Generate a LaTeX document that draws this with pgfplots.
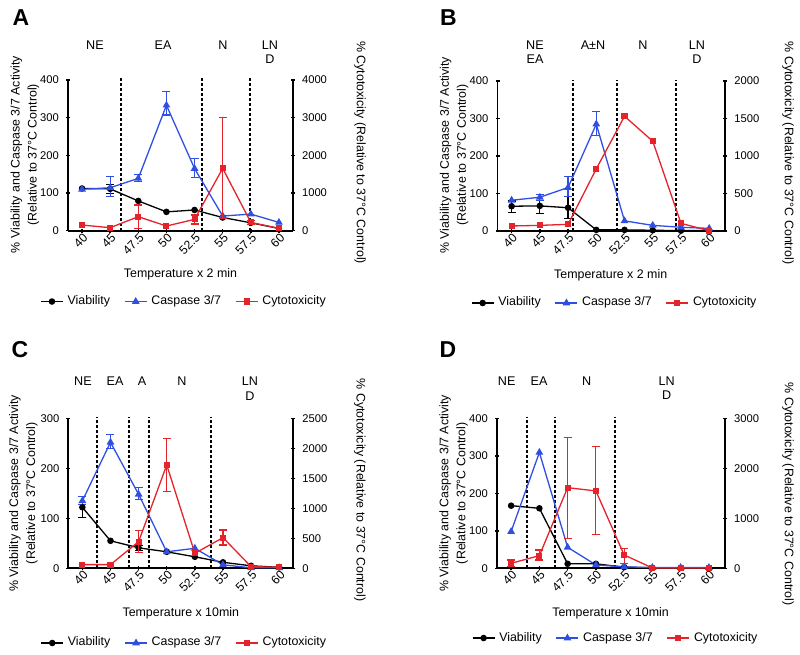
\documentclass[border=0pt]{standalone}
\usepackage{fontspec}
\setmainfont{Liberation Sans}
\usepackage{pgfplots}
\pgfplotsset{compat=1.18}
\definecolor{casp}{HTML}{2F4FE3}
\definecolor{cyto}{HTML}{E5232B}

% pixel (800x655, y down) -> pt
\newcommand{\px}[2]{({#1*0.5pt},{(655-#2)*0.5pt})}
\newcommand{\lblfont}{\fontsize{6.2}{8.5}\selectfont}

\tikzset{stage/.style={line width=1pt, dash pattern=on 1.5pt off 1pt}}

\pgfplotsset{
  panel/.style={
    scale only axis, clip=false, ymin=0,
    tick align=outside, major tick length=2pt,
    every tick/.style={black, line width=0.7pt},
    yticklabel style={font=\fontsize{5.6}{6}\selectfont},
    /pgf/number format/assume math mode=true,
    /pgf/number format/1000 sep={},
    scaled y ticks=false,
  },
  leftax/.style={panel, axis y line=left, axis x line=bottom,
    axis line style={-, line width=0.95pt},
    xtick={0,...,7}, xticklabels={40,45,47.5,50,52.5,55,57.5,60},
    xticklabel style={font=\fontsize{6.1}{6.5}\selectfont, rotate=45, anchor=east,
      inner sep=1pt, xshift=1.4pt, yshift=-2.2pt},
    ylabel={\% Viability and Caspase 3/7 Activity\\(Relative to 37°C Control)},
    ylabel style={align=center, anchor=center, font=\lblfont},
    xlabel style={anchor=center, font=\lblfont},
  },
  rightax/.style={panel, axis y line=right, axis x line=none,
    axis line style={-, line width=0.95pt},
    ylabel={\% Cytotoxicity (Relative to 37°C Control)},
    ylabel style={rotate=180, anchor=center, font=\lblfont},
    legend columns=-1,
    legend style={draw=none, fill=none, font=\fontsize{6.2}{7}\selectfont, anchor=center,
      /tikz/every even column/.append style={column sep=5pt}},
    legend image code/.code={\draw[mark repeat=2, mark phase=2] plot coordinates {(0pt,0pt) (5.5pt,0pt) (11pt,0pt)};},
    legend entries={Viability, Caspase 3/7, Cytotoxicity},
  },
  vl/.style={black, line width=0.65pt, mark=*, mark size=1.3pt},
  cl/.style={casp, line width=0.65pt, mark=triangle*, mark size=1.6pt},
  rl/.style={cyto, line width=0.65pt, mark=square*, mark size=1.2pt},
  eb/.style={error bars/.cd, y dir=both, y explicit,
    error bar style={line width=0.6pt},
    error mark options={rotate=90, mark size=2pt, line width=0.6pt}},
}

\begin{document}
\begin{tikzpicture}
\path[use as bounding box] (0,0) rectangle (400pt,327.5pt);

% ---------------- A ----------------
\begin{axis}[leftax, at={(34pt,212.15pt)}, anchor=south west,
  width=112.5pt, height=75.35pt, xmin=-0.5, xmax=7.5,
  ymax=400, ytick={0,100,...,400},
  xlabel={Temperature x 2 min},
  xlabel style={at={(axis description cs:0.5,-0.292)}},
  ylabel style={at={(axis description cs:-0.191,0.505)}}]
\draw[stage] (axis cs:1.39,0) -- (axis cs:1.39,404);
\draw[stage] (axis cs:4.27,0) -- (axis cs:4.27,404);
\draw[stage] (axis cs:5.98,0) -- (axis cs:5.98,404);
\addplot[vl, eb] coordinates {
  (0,112) (1,111) +- (0,12) (2,79) (3,50) (4,55) (5,35) (6,21) (7,6)};
\addplot[cl, eb] coordinates {
  (0,110) (1,114) += (0,29) -= (0,24) (2,139) += (0,11) -= (0,9)
  (3,333) += (0,36) -= (0,26) (4,165) += (0,27) -= (0,23)
  (5,39) (6,44) (7,22)};
\end{axis}
\begin{axis}[rightax, at={(34pt,212.15pt)}, anchor=south west,
  width=112.5pt, height=75.35pt, xmin=-0.5, xmax=7.5,
  ymax=4000, ytick={0,1000,...,4000},
  ylabel style={at={(axis description cs:1.298,0.518)}},
  legend style={at={(0.52,-0.47)}}]
\addlegendimage{vl}
\addlegendimage{cl}
\addplot[rl, eb] coordinates {
  (0,150) (1,80) (2,372) += (0,309) -= (0,310) (3,124)
  (4,301) += (0,115) -= (0,124) (5,1655) += (0,1350) -= (0,1330)
  (6,221) +- (0,60) (7,62)};
\end{axis}

% ---------------- B ----------------
\begin{axis}[leftax, at={(248.75pt,212pt)}, anchor=south west,
  width=113.9pt, height=75pt, xmin=-0.5, xmax=7.57,
  ymax=400, ytick={0,100,...,400},
  xlabel={Temperature x 2 min},
  xlabel style={at={(axis description cs:0.497,-0.293)}},
  ylabel style={at={(axis description cs:-0.19,0.505)}}]
\draw[stage] (axis cs:2.17,0) -- (axis cs:2.17,404);
\draw[stage] (axis cs:3.72,0) -- (axis cs:3.72,404);
\draw[stage] (axis cs:5.81,0) -- (axis cs:5.81,404);
\addplot[vl, eb] coordinates {
  (0,66) += (0,14) -= (0,16) (1,67) += (0,14) -= (0,20) (2,62) += (0,29) -= (0,28)
  (3,3) (4,3) (5,2) (6,1) (7,1)};
\addplot[cl, eb] coordinates {
  (0,82) (1,90) +- (0,8) (2,116) += (0,30) -= (0,25) (3,285) += (0,34) -= (0,30)
  (4,27) (5,15) (6,10) (7,7)};
\end{axis}
\begin{axis}[rightax, at={(248.75pt,212pt)}, anchor=south west,
  width=113.9pt, height=75pt, xmin=-0.5, xmax=7.57,
  ymax=2000, ytick={0,500,...,2000},
  ylabel style={at={(axis description cs:1.276,0.52)}},
  legend style={at={(0.519,-0.48)}}]
\addlegendimage{vl}
\addlegendimage{cl}
\addplot[rl] coordinates {
  (0,67) (1,75) (2,89) (3,829) (4,1530) (5,1197) (6,102) (7,4)};
\end{axis}

% ---------------- C ----------------
\begin{axis}[leftax, at={(34.15pt,43.35pt)}, anchor=south west,
  width=112.5pt, height=75pt, xmin=-0.5, xmax=7.5,
  ymax=300, ytick={0,100,200,300},
  xlabel={Temperature x 10min},
  xlabel style={at={(axis description cs:0.5,-0.30)}},
  ylabel style={at={(axis description cs:-0.2,0.5)}}]
\draw[stage] (axis cs:0.51,0) -- (axis cs:0.51,303);
\draw[stage] (axis cs:1.65,0) -- (axis cs:1.65,303);
\draw[stage] (axis cs:2.38,0) -- (axis cs:2.38,303);
\draw[stage] (axis cs:4.58,0) -- (axis cs:4.58,303);
\addplot[vl, eb] coordinates {
  (0,122) += (0,21) -= (0,20) (1,55) (2,41) +- (0,5) (3,33) (4,23) (5,12) (6,5) (7,2)};
\addplot[cl, eb] coordinates {
  (0,135) +- (0,8) (1,252) += (0,16) -= (0,12) (2,148) += (0,13) -= (0,11)
  (3,33) (4,40) (5,7) (6,1) (7,1)};
\end{axis}
\begin{axis}[rightax, at={(34.15pt,43.35pt)}, anchor=south west,
  width=112.5pt, height=75pt, xmin=-0.5, xmax=7.5,
  ymax=2500, ytick={0,500,...,2500},
  ylabel style={at={(axis description cs:1.296,0.522)}},
  legend style={at={(0.52,-0.498)}}]
\addlegendimage{vl}
\addlegendimage{cl}
\addplot[rl, eb] coordinates {
  (0,61) (1,61) (2,444) += (0,184) -= (0,183) (3,1722) += (0,445) -= (0,444)
  (4,250) (5,511) += (0,128) -= (0,122) (6,28) (7,17)};
\end{axis}

% ---------------- D ----------------
\begin{axis}[leftax, at={(248.5pt,43.35pt)}, anchor=south west,
  width=114pt, height=75pt, xmin=-0.5, xmax=7.57,
  ymax=400, ytick={0,100,...,400},
  xlabel={Temperature x 10min},
  xlabel style={at={(axis description cs:0.498,-0.30)}},
  ylabel style={at={(axis description cs:-0.19,0.5)}}]
\draw[stage] (axis cs:0.55,0) -- (axis cs:0.55,404);
\draw[stage] (axis cs:1.55,0) -- (axis cs:1.55,404);
\draw[stage] (axis cs:3.67,0) -- (axis cs:3.67,404);
\addplot[vl] coordinates {
  (0,167) (1,160) (2,12) (3,12) (4,3) (5,1) (6,1) (7,1)};
\addplot[cl] coordinates {
  (0,98) (1,309) (2,56) (3,9) (4,4) (5,2) (6,2) (7,2)};
\end{axis}
\begin{axis}[rightax, at={(248.5pt,43.35pt)}, anchor=south west,
  width=114pt, height=75pt, xmin=-0.5, xmax=7.57,
  ymax=3000, ytick={0,1000,2000,3000},
  ylabel style={at={(axis description cs:1.277,0.495)}},
  legend style={at={(0.525,-0.465)}}]
\addlegendimage{vl}
\addlegendimage{cl}
\addplot[rl, eb] coordinates {
  (0,100) +- (0,67) (1,253) += (0,114) -= (0,86) (2,1613) += (0,1007) -= (0,1013)
  (3,1547) += (0,886) -= (0,867) (4,267) += (0,133) -= (0,167)
  (5,7) (6,7) (7,7)};
\end{axis}

% ---------------- panel letters and stage labels ----------------
\begin{scope}[every node/.style={inner sep=0pt, font=\fontsize{11.5}{12}\selectfont\bfseries}]
\node at \px{21}{17.5} {A};
\node at \px{448.5}{17.5} {B};
\node at \px{20}{350} {C};
\node at \px{448}{350} {D};
\end{scope}
\begin{scope}[every node/.style={inner sep=0pt, anchor=base, font=\fontsize{6.3}{7}\selectfont}]
% A
\node at \px{95}{49.3} {NE};
\node at \px{163}{49.3} {EA};
\node at \px{223}{49.3} {N};
\node at \px{270}{49.3} {LN};
\node at \px{270}{64} {D};
% B
\node at \px{535}{49.3} {NE};
\node at \px{535}{63.5} {EA};
\node at \px{593}{49.3} {A±N};
\node at \px{643}{49.3} {N};
\node at \px{697}{49.3} {LN};
\node at \px{697}{63.5} {D};
% C
\node at \px{83}{386} {NE};
\node at \px{115}{386} {EA};
\node at \px{142}{386} {A};
\node at \px{182}{386} {N};
\node at \px{250}{386} {LN};
\node at \px{250}{400} {D};
% D
\node at \px{506.7}{385} {NE};
\node at \px{539}{385} {EA};
\node at \px{586.7}{385} {N};
\node at \px{666.7}{385} {LN};
\node at \px{666.7}{399} {D};
\end{scope}
\end{tikzpicture}
\end{document}
